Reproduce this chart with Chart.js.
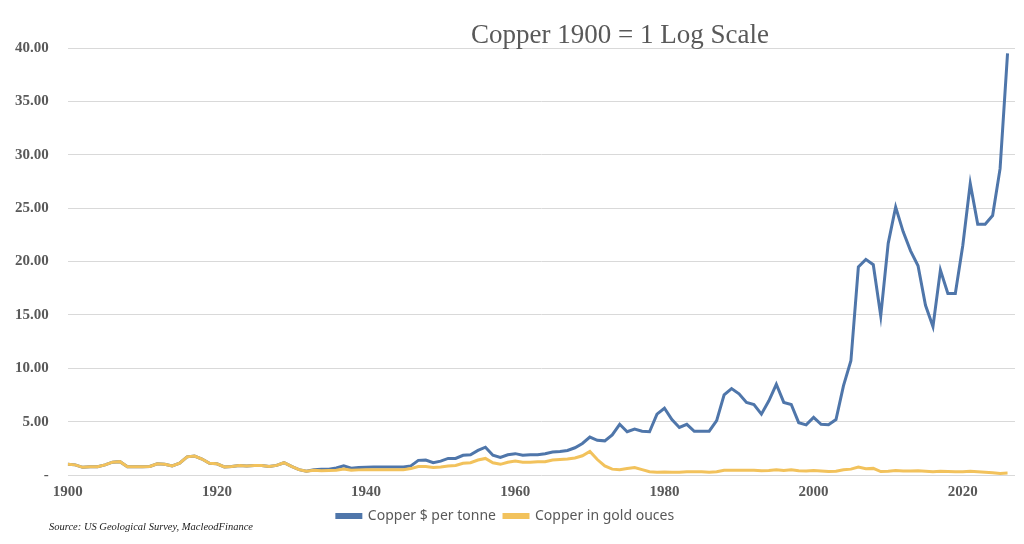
<!DOCTYPE html>
<html>
<head>
<meta charset="utf-8">
<script src="https://cdn.jsdelivr.net/npm/chart.js@4/dist/chart.umd.min.js"></script>
<style>
  html, body { margin: 0; padding: 0; background: #fff; }
  #wrap { width: 1024px; height: 544px; }
</style>
</head>
<body>
<div id="wrap"><canvas id="copperChart" width="1024" height="544"></canvas></div>
<script>
// years 1900 .. 2026
const years = Array.from({ length: 127 }, (_, i) => 1900 + i);

// Copper $ per tonne, 1900 = 1
const copperUsd = [
  1.0, 0.95, 0.72, 0.78, 0.78, 0.95, 1.2, 1.25, 0.78, 0.78,   // 1900s
  0.78, 0.8, 1.05, 1.0, 0.85, 1.1, 1.7, 1.78, 1.5, 1.1,       // 1910s
  1.05, 0.75, 0.8, 0.9, 0.85, 0.9, 0.88, 0.8, 0.9, 1.15,      // 1920s
  0.8, 0.5, 0.35, 0.5, 0.55, 0.55, 0.65, 0.85, 0.63, 0.7,     // 1930s
  0.72, 0.75, 0.75, 0.75, 0.75, 0.75, 0.85, 1.37, 1.4, 1.15,  // 1940s
  1.3, 1.55, 1.55, 1.85, 1.9, 2.3, 2.6, 1.85, 1.65, 1.9,      // 1950s
  2.0, 1.85, 1.9, 1.9, 2.0, 2.15, 2.2, 2.3, 2.55, 2.95,       // 1960s
  3.55, 3.25, 3.2, 3.75, 4.75, 4.05, 4.3, 4.1, 4.05, 5.7,     // 1970s
  6.25, 5.2, 4.45, 4.75, 4.1, 4.1, 4.1, 5.1, 7.5, 8.1,        // 1980s
  7.6, 6.8, 6.6, 5.7, 6.95, 8.5, 6.8, 6.6, 4.9, 4.7,          // 1990s
  5.4, 4.75, 4.7, 5.2, 8.35, 10.7, 19.5, 20.2, 19.7, 14.9,    // 2000s
  21.7, 25.1, 22.8, 21.0, 19.6, 15.9, 13.9, 19.2, 17.0, 17.0, // 2010s
  21.5, 27.3, 23.5, 23.5, 24.3, 28.7, 39.5                    // 2020s
];

// Copper priced in gold ounces, 1900 = 1
const copperGold = [
  1.0, 0.95, 0.72, 0.78, 0.78, 0.95, 1.2, 1.25, 0.78, 0.78,
  0.78, 0.8, 1.05, 1.0, 0.85, 1.1, 1.7, 1.78, 1.5, 1.1,
  1.05, 0.75, 0.8, 0.9, 0.85, 0.9, 0.88, 0.8, 0.9, 1.15,
  0.8, 0.5, 0.35, 0.45, 0.4, 0.42, 0.45, 0.55, 0.45, 0.48,
  0.5, 0.5, 0.5, 0.5, 0.5, 0.5, 0.6, 0.8, 0.8, 0.7,
  0.75, 0.85, 0.9, 1.1, 1.15, 1.4, 1.55, 1.15, 1.0, 1.2,
  1.3, 1.2, 1.2, 1.25, 1.25, 1.4, 1.45, 1.5, 1.6, 1.8,
  2.2, 1.45, 0.85, 0.55, 0.5, 0.6, 0.7, 0.5, 0.3, 0.25,
  0.28, 0.25, 0.25, 0.3, 0.3, 0.3, 0.25, 0.3, 0.45, 0.45,
  0.45, 0.45, 0.45, 0.4, 0.42, 0.5, 0.42, 0.5, 0.4, 0.38,
  0.42, 0.38, 0.32, 0.35, 0.5, 0.55, 0.75, 0.58, 0.62, 0.32,
  0.35, 0.42, 0.38, 0.38, 0.4, 0.35, 0.3, 0.35, 0.32, 0.3,
  0.3, 0.35, 0.3, 0.25, 0.2, 0.15, 0.18
];

const xTicks = [1900, 1920, 1940, 1960, 1980, 2000, 2020];
const yTicks = [0, 5, 10, 15, 20, 25, 30, 35, 40];

const titleText = 'Copper 1900 = 1 Log Scale';
const sourceText = 'Source: US Geological Survey, MacleodFinance';

const textGrey = '#595959';

// title sits over the plot, and the source note sits bottom left
const overlayText = {
  id: 'overlayText',
  afterDraw(chart) {
    const c = chart.ctx;
    c.save();
    c.fillStyle = textGrey;
    c.font = '27px "Liberation Serif"';
    c.textAlign = 'center';
    c.textBaseline = 'alphabetic';
    c.fillText(titleText, 620, 43);
    c.fillStyle = '#1a1a1a';
    c.font = 'italic 10.5px "Liberation Serif"';
    c.textAlign = 'left';
    c.fillText(sourceText, 49, 530);
    c.restore();
  }
};

const ctx = document.getElementById('copperChart').getContext('2d');
const chart = new Chart(ctx, {
  type: 'line',
  data: {
    datasets: [{
      label: 'Copper $ per tonne',
      data: years.map((yr, i) => ({ x: yr, y: copperUsd[i] })),
      borderColor: '#4f76aa',
      backgroundColor: '#4f76aa',
      borderWidth: 3,
      pointRadius: 0,
      order: 1
    }, {
      label: 'Copper in gold ouces',
      data: years.map((yr, i) => ({ x: yr, y: copperGold[i] })),
      borderColor: '#f2c25c',
      backgroundColor: '#f2c25c',
      borderWidth: 3,
      pointRadius: 0,
      order: 0
    }]
  },
  options: {
    responsive: false,
    maintainAspectRatio: false,
    animation: false,
    layout: { padding: { top: 48, left: -4, right: 9, bottom: 11 } },
    scales: {
      x: {
        type: 'linear',
        min: 1900,
        max: 2027,
        afterBuildTicks: axis => { axis.ticks = xTicks.map(v => ({ value: v })); },
        grid: { display: false },
        border: { display: false },
        ticks: {
          autoSkip: false,
          maxRotation: 0,
          padding: 0,
          color: textGrey,
          font: { family: '"Liberation Serif"', size: 15, weight: 'bold' },
          callback: v => String(v)
        }
      },
      y: {
        min: 0,
        max: 40,
        afterBuildTicks: axis => { axis.ticks = yTicks.map(v => ({ value: v })); },
        grid: { color: '#d9d9d9', lineWidth: 1, drawTicks: false },
        border: { display: false },
        ticks: {
          padding: 19,
          color: textGrey,
          font: { family: '"Liberation Serif"', size: 15, weight: 'bold' },
          callback: v => (v === 0 ? '-' : v.toFixed(2))
        }
      }
    },
    plugins: {
      legend: {
        position: 'bottom',
        labels: {
          boxWidth: 24,
          boxHeight: 3,
          padding: 8,
          color: textGrey,
          font: { family: '"Noto Sans"', size: 14 },
          sort: (a, b) => a.datasetIndex - b.datasetIndex
        }
      },
      tooltip: { enabled: false }
    }
  },
  plugins: [overlayText]
});
</script>
</body>
</html>
